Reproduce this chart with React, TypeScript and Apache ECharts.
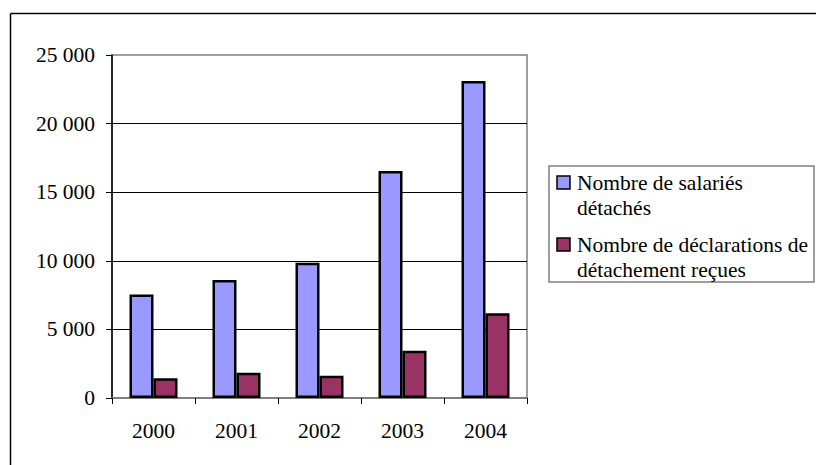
import React, { useEffect, useRef } from "react";
import * as echarts from "echarts";

const categories = ["2000", "2001", "2002", "2003", "2004"];
const seriesNames = ["Nombre de salariés\ndétachés", "Nombre de déclarations de\ndétachement reçues"];
const salaries = [7550, 8600, 9850, 16550, 23100];
const declarations = [1440, 1840, 1620, 3450, 6170];
const seriesColors = ["#9999FF", "#993366"];

const FONT = "Liberation Serif";
const FS = 21.5;

function fmt(v: number): string {
  const s = String(Math.round(v));
  return s.replace(/\B(?=(\d{3})+(?!\d))/g, " ");
}

export default function App() {
  const ref = useRef<HTMLDivElement>(null);
  useEffect(() => {
    if (!ref.current) return;
    const chart = echarts.init(ref.current, undefined, { renderer: "svg" });
    const legendItems: any[] = [];
    const legendTop = [183, 245];
    seriesNames.forEach((name, i) => {
      legendItems.push({
        type: "rect",
        shape: { x: 557, y: legendTop[i] - 7, width: 13, height: 13 },
        style: { fill: seriesColors[i], stroke: "#000", lineWidth: 1.5 },
        z: 101,
      });
      legendItems.push({
        type: "text",
        style: {
          text: name,
          x: 577,
          y: legendTop[i] - 13,
          fontFamily: FONT,
          fontSize: FS,
          fill: "#000",
          lineHeight: 25.5,
          verticalAlign: "top",
        },
        z: 101,
      });
    });
    chart.setOption({
      animation: false,
      backgroundColor: "#fff",
      textStyle: { fontFamily: FONT },
      grid: {
        left: 112,
        top: 55,
        right: 289,
        bottom: 67,
        show: true,
        borderColor: "#808080",
        borderWidth: 1.5,
        backgroundColor: "#fff",
      },
      xAxis: {
        type: "category",
        data: categories,
        boundaryGap: true,
        axisLine: { show: true, lineStyle: { color: "#808080", width: 2 } },
        axisTick: { show: true, length: 6, alignWithLabel: false, lineStyle: { color: "#000", width: 1 } },
        axisLabel: { color: "#000", fontFamily: FONT, fontSize: FS, margin: 22 },
      },
      yAxis: {
        type: "value",
        min: 0,
        max: 25000,
        interval: 5000,
        axisLine: { show: true, lineStyle: { color: "#000", width: 1.5 } },
        axisTick: { show: true, length: 6, lineStyle: { color: "#000", width: 1 } },
        axisLabel: { color: "#000", fontFamily: FONT, fontSize: FS, margin: 17, formatter: (v: number) => fmt(v) },
        splitLine: { show: true, showMinLine: false, showMaxLine: false, lineStyle: { color: "#000", width: 1 } },
      },
      series: [
        {
          name: seriesNames[0],
          type: "bar",
          data: salaries,
          barWidth: 24,
          barGap: "0%",
          itemStyle: { color: seriesColors[0], borderColor: "#000", borderWidth: 2.5 },
        },
        {
          name: seriesNames[1],
          type: "bar",
          data: declarations,
          barWidth: 24,
          barGap: "0%",
          itemStyle: { color: seriesColors[1], borderColor: "#000", borderWidth: 2.5 },
        },
      ],
      graphic: [
        { type: "line", shape: { x1: 10.5, y1: 13.5, x2: 816, y2: 13.5 }, style: { stroke: "#000", lineWidth: 1.5 } },
        { type: "line", shape: { x1: 10.5, y1: 13.5, x2: 10.5, y2: 465 }, style: { stroke: "#000", lineWidth: 1.5 } },
        {
          type: "rect",
          shape: { x: 549, y: 166, width: 265, height: 116 },
          style: { fill: "#fff", stroke: "#808080", lineWidth: 1.5 },
          z: 100,
        },
        ...legendItems,
      ],
    });
    return () => chart.dispose();
  }, []);
  return <div ref={ref} style={{ position: "absolute", left: 0, top: 0, width: 816, height: 465 }} />;
}
